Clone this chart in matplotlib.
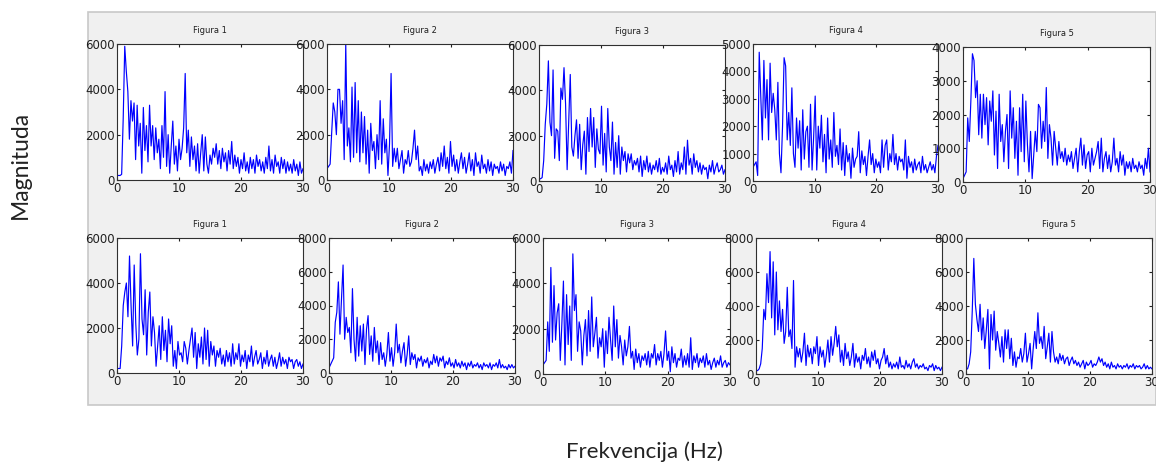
import numpy as np
import matplotlib
matplotlib.use('Agg')
import matplotlib.pyplot as plt
from matplotlib.patches import Rectangle

# magnitude spectra, 0-30 Hz
titles = ['Figura 1', 'Figura 2', 'Figura 3', 'Figura 4', 'Figura 5']

top1 = [200, 200, 200, 250, 2700, 5900, 4800, 3900, 1800, 3500, 2600, 3400, 900, 3300, 1500, 2500,
        300, 3200, 1300, 2400, 800, 3300, 1500, 2400, 900, 2300, 1200, 1800, 500, 2400, 1000, 3900,
        600, 2000, 300, 1500, 2600, 700, 1500, 400, 1800, 900, 1400, 2300, 4700, 1200, 2200, 600,
        1900, 900, 1500, 400, 1600, 300, 1200, 2000, 400, 1900, 700, 300, 1100, 700, 1400, 1000,
        1600, 700, 1300, 500, 1400, 800, 1200, 400, 1300, 700, 1700, 500, 1100, 600, 1000, 300,
        900, 500, 1200, 400, 800, 300, 1000, 500, 900, 300, 1100, 600, 900, 400, 800, 300,
        1000, 500, 1500, 400, 900, 300, 1100, 600, 800, 300, 1000, 500, 900, 300, 800, 400,
        700, 300, 900, 400, 700, 200, 800, 300, 500]
top2 = [500, 600, 700, 2100, 3400, 3000, 2000, 4000, 4000, 2500, 3500, 900, 6000, 1500, 2300, 800,
        4100, 1000, 4300, 1200, 3500, 800, 3000, 1200, 2800, 700, 2200, 300, 2500, 1300, 1700, 500,
        2000, 900, 3500, 700, 2700, 1200, 1800, 200, 1600, 4700, 600, 1400, 800, 1400, 500, 900,
        1300, 300, 900, 700, 1300, 600, 800, 1400, 2200, 900, 1500, 400, 600, 200, 900, 400,
        700, 300, 800, 500, 900, 300, 700, 1000, 400, 1200, 600, 1500, 500, 1000, 300, 1700,
        600, 1100, 400, 900, 300, 800, 1200, 500, 1000, 300, 700, 1200, 400, 900, 200, 1200,
        600, 800, 300, 1100, 500, 700, 300, 900, 400, 800, 200, 700, 500, 600, 300, 800,
        400, 700, 200, 600, 500, 800, 300, 1300]
top3 = [100, 100, 150, 900, 2500, 3400, 5300, 2600, 2000, 4900, 1000, 2300, 2200, 900, 4100, 3600,
        5000, 3400, 500, 2600, 4700, 1500, 1100, 2000, 2700, 1000, 2500, 500, 1600, 2200, 300, 2800,
        1300, 3200, 1500, 2800, 600, 2300, 1400, 1200, 3300, 700, 2100, 400, 3200, 1500, 900, 2600,
        300, 1700, 600, 2000, 300, 1500, 900, 1300, 400, 1200, 800, 1200, 500, 900, 700, 1000,
        400, 1100, 200, 900, 500, 1100, 400, 800, 300, 700, 500, 900, 400, 1000, 300, 600,
        400, 800, 300, 1100, 500, 700, 200, 900, 400, 1300, 300, 800, 500, 1500, 300, 1800,
        700, 1000, 300, 1200, 600, 900, 400, 800, 300, 700, 500, 600, 100, 700, 400, 900,
        300, 600, 800, 400, 500, 700, 300, 500]
top4 = [500, 600, 700, 200, 4700, 3100, 1500, 4400, 2300, 3700, 1500, 4300, 2500, 3200, 2600, 1500,
        3600, 1000, 300, 2000, 4500, 4200, 1500, 2500, 1300, 3400, 1000, 500, 2300, 1200, 2200, 400,
        2600, 800, 1800, 2000, 500, 2800, 400, 1600, 3100, 400, 2000, 1200, 2400, 700, 1700, 300,
        2300, 800, 1500, 500, 2500, 900, 1300, 600, 1900, 400, 1400, 200, 1300, 700, 1000, 100,
        1200, 500, 800, 900, 1800, 300, 1100, 600, 900, 200, 900, 1500, 600, 1000, 300, 800,
        500, 700, 300, 1500, 500, 1300, 1500, 400, 1000, 700, 1700, 600, 1000, 400, 900, 700,
        800, 400, 1500, 100, 900, 500, 700, 300, 800, 400, 600, 700, 300, 900, 400, 600,
        300, 500, 700, 400, 600, 300, 900, 1300]
top5 = [100, 200, 300, 1900, 1200, 2400, 3800, 3600, 2500, 3000, 1400, 2600, 1300, 2600, 1700, 2500,
        1100, 2400, 1800, 2700, 800, 2100, 400, 2600, 1200, 1700, 600, 1500, 2000, 400, 2700, 1300,
        2200, 700, 1800, 200, 2200, 900, 2600, 600, 2400, 1100, 300, 1500, 100, 800, 1500, 900,
        2300, 2200, 1000, 1800, 1200, 2800, 700, 1700, 1300, 500, 1500, 1000, 500, 1200, 700, 900,
        600, 1000, 500, 800, 600, 900, 400, 700, 1000, 300, 900, 1300, 500, 1100, 400, 800,
        900, 300, 1000, 500, 700, 900, 1200, 400, 1300, 300, 700, 900, 400, 800, 300, 600,
        1300, 500, 700, 300, 900, 500, 800, 200, 600, 400, 600, 300, 700, 400, 500, 300,
        600, 400, 500, 200, 700, 400, 1000, 300]

bot1 = [200, 200, 200, 1200, 3000, 3600, 4000, 2500, 5200, 3000, 1200, 4800, 2200, 800, 1500, 5300,
        2400, 1700, 3700, 800, 2700, 3600, 1200, 2500, 1800, 300, 1200, 2100, 600, 2500, 1000, 1900,
        500, 2400, 1300, 2100, 300, 1000, 200, 1400, 800, 900, 500, 1400, 1100, 400, 1000, 1500,
        2000, 700, 1800, 200, 1300, 700, 1600, 400, 2000, 600, 1900, 300, 1400, 800, 1200, 300,
        1000, 700, 1100, 400, 800, 300, 1000, 500, 900, 300, 1300, 400, 900, 600, 1300, 300,
        800, 500, 1000, 200, 800, 500, 1200, 300, 700, 1000, 400, 600, 900, 200, 700, 400,
        1000, 300, 600, 800, 300, 700, 200, 500, 900, 300, 700, 400, 600, 200, 700, 500,
        600, 200, 500, 600, 300, 500, 200, 400]
bot2 = [300, 500, 700, 900, 3000, 3600, 5400, 2300, 4400, 6400, 2000, 3300, 2400, 2700, 1200, 5000,
        2000, 700, 3300, 1000, 2800, 1300, 2900, 500, 2600, 3400, 1100, 2200, 700, 2700, 1200, 1900,
        500, 1800, 800, 1200, 400, 1100, 2400, 700, 1500, 400, 1200, 2900, 1200, 1700, 600, 1300,
        1800, 400, 1100, 2200, 500, 1200, 800, 1100, 300, 900, 700, 1000, 400, 800, 600, 900,
        300, 700, 500, 1100, 600, 1000, 400, 900, 700, 1000, 300, 700, 500, 900, 400, 600,
        300, 800, 400, 600, 300, 700, 400, 600, 200, 600, 400, 700, 300, 500, 400, 600,
        300, 500, 200, 600, 400, 500, 300, 600, 200, 500, 400, 600, 300, 800, 300, 500,
        300, 400, 200, 500, 300, 500, 300, 400]
bot3 = [400, 500, 600, 2300, 1000, 4700, 1400, 3900, 1500, 2700, 3100, 600, 2200, 4100, 400, 3500,
        1300, 3000, 600, 5300, 2800, 3500, 1000, 2300, 1900, 400, 1700, 2400, 800, 2800, 1000, 3400,
        1200, 1800, 2500, 700, 1600, 1200, 2000, 300, 1900, 900, 2500, 1500, 600, 3000, 1200, 2400,
        700, 1700, 1200, 400, 1500, 800, 1200, 2100, 700, 1000, 200, 1100, 500, 900, 300, 800,
        600, 900, 400, 1000, 300, 900, 700, 1300, 400, 900, 600, 1000, 300, 900, 1900, 600,
        1000, 100, 1200, 500, 900, 300, 700, 600, 1100, 300, 800, 400, 900, 300, 1600, 200,
        800, 500, 900, 300, 700, 500, 800, 300, 900, 400, 600, 200, 500, 700, 300, 600,
        400, 800, 300, 500, 600, 300, 500, 400]
bot4 = [200, 200, 300, 600, 1500, 3800, 3200, 5900, 4200, 7200, 3300, 6600, 2300, 6000, 2600, 4300,
        2500, 3800, 1800, 2500, 5100, 2200, 2600, 1500, 5500, 400, 1600, 1000, 1500, 700, 1300, 2400,
        500, 1700, 1000, 1500, 600, 1600, 1200, 2200, 500, 1600, 1000, 1400, 400, 1100, 2000, 700,
        2200, 1100, 1800, 2800, 1600, 2300, 700, 1400, 500, 1800, 900, 1300, 500, 1000, 1800, 400,
        1200, 700, 1000, 300, 1100, 800, 1500, 600, 1000, 400, 1300, 800, 1400, 600, 900, 300,
        800, 1000, 1500, 600, 1100, 400, 700, 300, 600, 400, 700, 300, 1000, 400, 500, 300,
        800, 400, 600, 300, 700, 900, 400, 600, 300, 500, 400, 600, 300, 400, 200, 500,
        400, 600, 200, 500, 300, 400, 200, 400]
bot5 = [300, 300, 600, 1300, 3700, 6800, 4100, 3200, 2500, 4100, 2000, 3300, 1500, 2600, 3800, 300,
        3500, 2000, 3700, 1400, 2500, 1800, 1000, 2200, 700, 2600, 1500, 2600, 900, 2100, 500, 1300,
        400, 1000, 900, 1500, 700, 1200, 2400, 700, 1200, 1800, 300, 1500, 2500, 1500, 3600, 1800,
        2200, 1500, 2800, 900, 1600, 2400, 700, 2500, 1300, 700, 1000, 600, 1200, 800, 1100, 600,
        900, 1000, 500, 800, 1000, 600, 800, 500, 700, 400, 600, 800, 300, 700, 500, 600,
        800, 400, 600, 500, 700, 1000, 700, 900, 500, 700, 400, 600, 300, 700, 400, 500,
        300, 600, 400, 500, 300, 500, 400, 600, 300, 500, 400, 600, 300, 500, 400, 500,
        300, 400, 600, 300, 500, 300, 400, 300]

top_rows = [top1, top2, top3, top4, top5]
bot_rows = [bot1, bot2, bot3, bot4, bot5]
top_ylim = [6000, 6000, 6000, 5000, 4000]
top_step = [2000, 2000, 2000, 1000, 1000]
bot_ylim = [6000, 8000, 6000, 8000, 8000]
bot_step = [2000, 2000, 2000, 2000, 2000]

W, H = 1156, 463
fig = plt.figure(figsize=(W / 100, H / 100), dpi=100)

# grey window background like the screenshot
fig.patches.append(Rectangle((88 / W, 1 - 405 / H), (W - 88) / W, (405 - 12) / H,
                             transform=fig.transFigure, facecolor='#f0f0f0',
                             edgecolor='#c8c8c8', linewidth=1.2, zorder=-5))

# axes boxes in pixels: left, top, right, bottom
top_box = [(117, 44, 303, 180), (327, 44, 513, 180), (539, 45, 725, 181),
           (753, 44, 938, 181), (963, 47, 1150, 182)]
bot_box = [(117, 238, 303, 373), (329, 238, 515, 373), (543, 238, 730, 374),
           (756, 238, 942, 374), (966, 238, 1152, 374)]


def draw(box, y, ymax, step, title):
    l, t, r, b = box
    ax = fig.add_axes([l / W, 1 - b / H, (r - l) / W, (b - t) / H])
    ax.set_facecolor('white')
    x = np.linspace(0, 30, len(y))
    ax.plot(x, y, color='#0000ff', linewidth=0.85)
    ax.set_xlim(0, 30)
    ax.set_ylim(0, ymax)
    ax.set_xticks([0, 10, 20, 30])
    ax.set_yticks(np.arange(0, ymax + 1, step))
    ax.tick_params(direction='in', top=True, right=True, labelsize=8.5, length=2.5,
                   pad=1.5, colors='#202020')
    for s in ax.spines.values():
        s.set_linewidth(0.8)
        s.set_color('#303030')
    ax.set_title(title, fontsize=6, pad=8, color='#202020')


for i in range(5):
    draw(top_box[i], top_rows[i], top_ylim[i], top_step[i], titles[i])
    draw(bot_box[i], bot_rows[i], bot_ylim[i], bot_step[i], titles[i])

fig.text(20 / W, 1 - 165 / H, 'Magnituda', rotation=90, ha='center', va='center',
         fontsize=16.5, family='Lato', color='#222222')
fig.text(644 / W, 1 - 452 / H, 'Frekvencija (Hz)', ha='center', va='center',
         fontsize=16, family='Lato', color='#222222')

fig.savefig('out.png', dpi=100)
